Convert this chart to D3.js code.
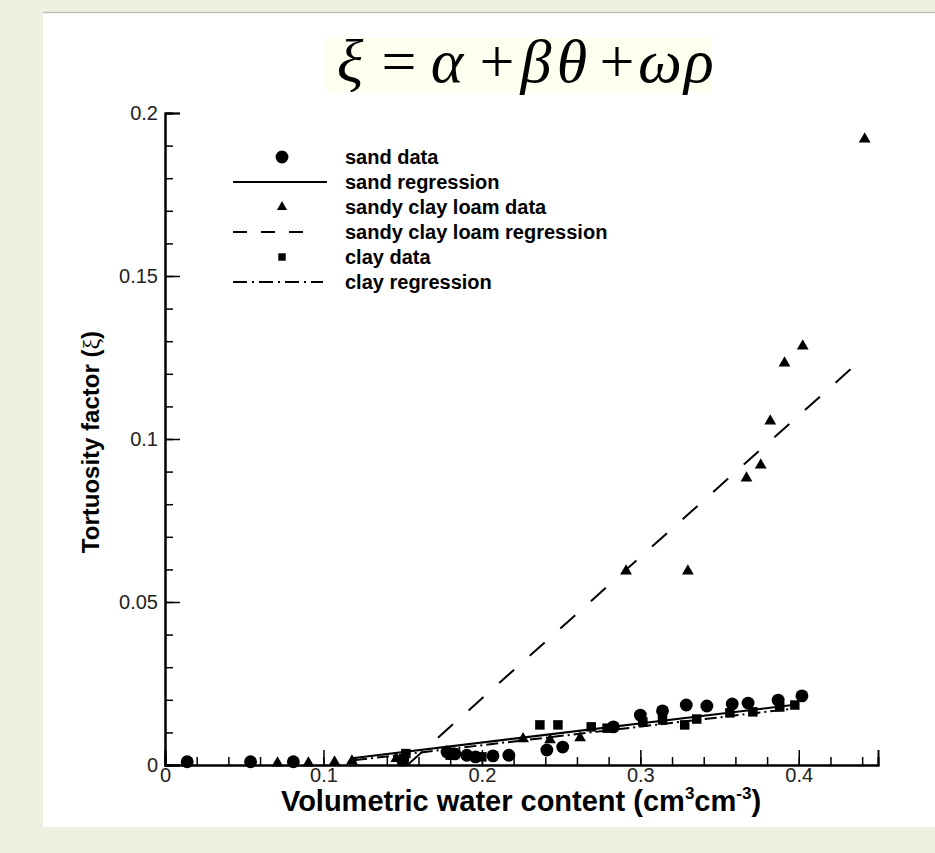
<!DOCTYPE html>
<html><head><meta charset="utf-8">
<script src="https://cdn.jsdelivr.net/npm/d3@7"></script>
<style>
html,body{margin:0;padding:0;background:#f0f0e0;}
svg{display:block;}
</style></head>
<body>
<script>
// ---- data (θ, ξ) ----
const sandData = [
  [0.014,0.001],[0.054,0.001],[0.081,0.001],[0.150,0.0015],
  [0.178,0.004],[0.183,0.0034],[0.1905,0.003],[0.196,0.0025],[0.207,0.0028],[0.217,0.003],
  [0.241,0.0046],[0.251,0.0055],[0.283,0.0117],[0.300,0.0153],[0.314,0.0166],[0.329,0.0184],
  [0.342,0.0181],[0.358,0.0187],[0.368,0.019],[0.387,0.0199],[0.402,0.0212]
];
const sandyClayLoamData = [
  [0.071,0.0006],[0.0905,0.0006],[0.107,0.0009],[0.118,0.0012],[0.146,0.002],
  [0.226,0.008],[0.243,0.0077],[0.262,0.0083],
  [0.291,0.0595],[0.330,0.0595],[0.367,0.088],[0.376,0.092],[0.382,0.1055],
  [0.391,0.1233],[0.4025,0.1285],[0.4416,0.192]
];
const clayData = [
  [0.152,0.0035],[0.180,0.003],[0.200,0.0025],
  [0.2366,0.0123],[0.248,0.0123],[0.269,0.0117],[0.279,0.0113],[0.3016,0.0132],[0.314,0.0138],
  [0.328,0.0123],[0.3356,0.0141],[0.3565,0.016],[0.371,0.0163],[0.388,0.0178],[0.3975,0.0184]
];
const sandRegression = [[0.118,0.0021],[0.400,0.0186]];
const sandyClayLoamRegression = [[0.153,0.0],[0.441,0.125]];
const clayRegression = [[0.120,0.0015],[0.395,0.0172]];

const xMajorTicks = [0,0.1,0.2,0.3,0.4];
const xTickLabels = ["0","0.1","0.2","0.3","0.4"];
const yMajorTicks = [0,0.05,0.1,0.15,0.2];
const yTickLabels = ["0","0.05","0.1","0.15","0.2"];
const legendLabels = ["sand data","sand regression","sandy clay loam data","sandy clay loam regression","clay data","clay regression"];
const titleParts = [["ξ",true],["=",false],["α",true],["+",false],["β",true],["θ",true],["+",false],["ω",true],["ρ",true]];

// ---- drawing ----
const W=935,H=853;
const svg=d3.select("body").append("svg").attr("width",W).attr("height",H);
svg.append("rect").attr("x",0).attr("y",0).attr("width",W).attr("height",H).attr("fill","#f0f0e0");
svg.append("rect").attr("x",43).attr("y",12).attr("width",W-43).attr("height",H-12-26).attr("fill","#ffffff");
svg.append("line").attr("x1",43).attr("x2",W).attr("y1",12.5).attr("y2",12.5).attr("stroke","#bfbfb4").attr("stroke-width",1.5);

const x=d3.scaleLinear().domain([0,0.45]).range([165,878]);
const y=d3.scaleLinear().domain([0,0.2]).range([765,113]);

// title box
svg.append("rect").attr("x",325).attr("y",38).attr("width",386).attr("height",54).attr("fill","#fffff0");
const titleX=[350,399,447,497,536,572,617,660,699];
const title=svg.append("text").attr("y",82).attr("text-anchor","middle")
  .attr("font-family","'Liberation Serif','Times New Roman',serif").attr("font-size",62).attr("fill","#000");
titleParts.forEach((p,i)=>{
  title.append("tspan").attr("x",titleX[i]).attr("font-style",p[1]?"italic":"normal").text(p[0]);
});

// axes
const font="'Liberation Sans',Arial,sans-serif";
const xAxisMinor=d3.axisBottom(x).tickValues(d3.range(0,0.4501,0.02)).tickSize(-8).tickFormat("");
const xAxisMajor=d3.axisBottom(x).tickValues(xMajorTicks).tickSize(-15).tickPadding(3)
   .tickFormat((d,i)=>xTickLabels[i]);
const yAxisMinor=d3.axisLeft(y).tickValues(d3.range(0,0.2001,0.01)).tickSize(-8).tickFormat("");
const yAxisMajor=d3.axisLeft(y).tickValues(yMajorTicks).tickSize(-15).tickPadding(7)
   .tickFormat((d,i)=>yTickLabels[i]);

function styleAxis(g){
  g.select(".domain").attr("stroke","#000").attr("stroke-width",2);
  g.selectAll(".tick line").attr("stroke","#000").attr("stroke-width",1.5);
  g.selectAll(".tick text").attr("font-family",font).attr("font-size",20).attr("fill","#222");
}
svg.append("g").attr("transform","translate(0,765)").call(xAxisMinor).call(styleAxis);
svg.append("g").attr("transform","translate(0,765)").call(xAxisMajor).call(styleAxis);
svg.append("g").attr("transform","translate(165,0)").call(yAxisMinor).call(styleAxis);
svg.append("g").attr("transform","translate(165,0)").call(yAxisMajor).call(styleAxis);

// axis titles
const xt=svg.append("text").attr("x",521).attr("y",811).attr("text-anchor","middle")
  .attr("font-family",font).attr("font-weight","bold").attr("font-size",29);
xt.append("tspan").text("Volumetric water content (cm");
xt.append("tspan").attr("font-size",17).attr("dy",-12).text("3");
xt.append("tspan").attr("dy",12).text("cm");
xt.append("tspan").attr("font-size",17).attr("dy",-12).text("-3");
xt.append("tspan").attr("dy",12).text(")");

const yt=svg.append("text").attr("transform","translate(99,442) rotate(-90)").attr("text-anchor","middle")
  .attr("font-family",font).attr("font-weight","bold").attr("font-size",24);
yt.append("tspan").text("Tortuosity factor (");
yt.append("tspan").attr("font-family","'Liberation Serif',serif").attr("font-weight","normal").text("ξ");
yt.append("tspan").text(")");

// regression lines
const line=d3.line().x(d=>x(d[0])).y(d=>y(d[1]));
svg.append("path").datum(sandRegression).attr("d",line).attr("fill","none").attr("stroke","#000").attr("stroke-width",2);
svg.append("path").datum(sandyClayLoamRegression).attr("d",line).attr("fill","none").attr("stroke","#000").attr("stroke-width",2).attr("stroke-dasharray","20,21");
svg.append("path").datum(clayRegression).attr("d",line).attr("fill","none").attr("stroke","#000").attr("stroke-width",2).attr("stroke-dasharray","12,4,2,4");

// symbols
const circ=d3.symbol().type(d3.symbolCircle).size(130);
const tri=d3.symbol().type(d3.symbolTriangle).size(60);
const sq=d3.symbol().type(d3.symbolSquare).size(90);
svg.append("g").selectAll("path").data(clayData).join("path")
  .attr("transform",d=>`translate(${x(d[0])},${y(d[1])})`).attr("d",sq).attr("fill","#000");
svg.append("g").selectAll("path").data(sandData).join("path")
  .attr("transform",d=>`translate(${x(d[0])},${y(d[1])})`).attr("d",circ).attr("fill","#000");
svg.append("g").selectAll("path").data(sandyClayLoamData).join("path")
  .attr("transform",d=>`translate(${x(d[0])},${y(d[1])})`).attr("d",tri).attr("fill","#000");

// legend
const lg=svg.append("g");
const rowY=[157,182,207,232,257,282];
legendLabels.forEach((t,i)=>{
  lg.append("text").attr("x",345).attr("y",rowY[i]+7).attr("font-family",font).attr("font-weight","bold")
    .attr("font-size",20).text(t);
});
lg.append("path").attr("transform",`translate(282,${rowY[0]})`).attr("d",d3.symbol().type(d3.symbolCircle).size(130)()).attr("fill","#000");
lg.append("line").attr("x1",233).attr("x2",327).attr("y1",rowY[1]).attr("y2",rowY[1]).attr("stroke","#000").attr("stroke-width",2);
lg.append("path").attr("transform",`translate(282,${rowY[2]})`).attr("d",d3.symbol().type(d3.symbolTriangle).size(45)()).attr("fill","#000");
lg.append("line").attr("x1",233).attr("x2",315).attr("y1",rowY[3]).attr("y2",rowY[3]).attr("stroke","#000").attr("stroke-width",2).attr("stroke-dasharray","14,14");
lg.append("path").attr("transform",`translate(282,${rowY[4]})`).attr("d",d3.symbol().type(d3.symbolSquare).size(55)()).attr("fill","#000");
lg.append("line").attr("x1",233).attr("x2",323).attr("y1",rowY[5]).attr("y2",rowY[5]).attr("stroke","#000").attr("stroke-width",2).attr("stroke-dasharray","14,5,2,5");
</script>
</body></html>
